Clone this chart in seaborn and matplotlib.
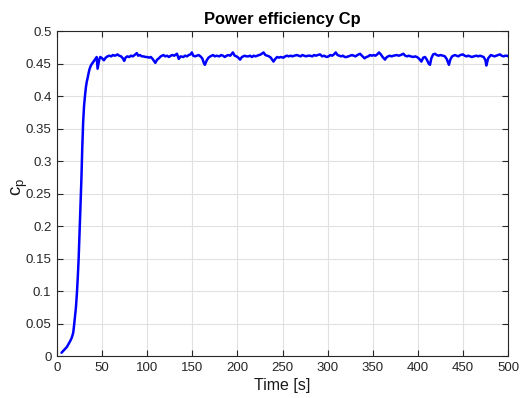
import matplotlib
matplotlib.use("Agg")
import matplotlib.pyplot as plt
import seaborn as sns
import pandas as pd

time = [5, 7, 9, 11, 13, 15, 16, 17, 18, 19, 20, 21, 22, 23, 24, 25, 26, 27, 28, 29,
        30, 31, 32, 33, 34, 35, 36, 37, 38, 40, 42, 44, 45, 46, 47, 48, 50, 52, 54, 56,
        58, 60, 62, 64, 66, 67, 69, 71, 73, 74.5, 76, 78, 80, 82, 84, 86, 88.5, 90, 92, 94,
        96, 98, 100, 102, 104, 106, 108, 109, 111, 113, 115, 118, 120, 122, 124, 126, 128, 130, 133, 135,
        137, 140, 142, 144, 146, 148, 149.5, 151, 153, 155, 157, 159, 161, 163, 164, 166, 168, 170, 173, 175,
        177, 180, 182, 184, 186, 188, 190, 192, 195, 197, 199, 201, 203, 205, 208, 210, 212, 214, 216, 218,
        220, 222, 224, 226, 229, 231, 233, 235, 237, 239, 240, 242, 244, 246, 248, 251, 253, 255, 257, 259,
        261, 263, 266, 268, 270, 272, 274, 276, 278, 280.5, 283, 285, 287, 289, 291.6, 294, 296, 299, 301, 303,
        305, 307, 309, 311, 313, 315, 317, 319, 321, 323, 325, 327, 329, 331, 333, 336, 338, 341, 343, 345,
        347, 349, 351, 353, 355, 357, 359, 361, 363.6, 365, 367, 369, 371, 373, 376.5, 379, 381, 384, 386, 388,
        390, 392, 395, 397, 399, 401, 404, 406, 408, 410, 412, 413.5, 415, 417, 419, 421, 423, 425, 428, 430,
        432, 434.5, 436, 438, 441, 443, 445, 447, 450, 452, 454, 456, 458, 460, 462, 465, 467, 469, 471, 473,
        475, 476, 478, 481, 483, 485, 487, 489, 491, 493, 495, 497, 499, 500]
cp = [0.005, 0.008, 0.011, 0.014, 0.019, 0.024, 0.027, 0.031, 0.036, 0.048, 0.062, 0.075, 0.095, 0.12, 0.15, 0.19, 0.23, 0.27, 0.32, 0.36,
      0.385, 0.40, 0.413, 0.422, 0.428, 0.435, 0.441, 0.445, 0.448, 0.452, 0.456, 0.460, 0.442, 0.450, 0.457, 0.460, 0.458, 0.455, 0.459, 0.461,
      0.462, 0.461, 0.463, 0.462, 0.463, 0.464, 0.462, 0.461, 0.458, 0.454, 0.459, 0.461, 0.460, 0.462, 0.461, 0.463, 0.466, 0.462, 0.463, 0.461,
      0.461, 0.460, 0.460, 0.459, 0.460, 0.457, 0.453, 0.451, 0.456, 0.458, 0.461, 0.463, 0.461, 0.462, 0.460, 0.462, 0.463, 0.462, 0.465, 0.457,
      0.461, 0.460, 0.462, 0.461, 0.463, 0.464, 0.467, 0.462, 0.461, 0.462, 0.463, 0.461, 0.458, 0.450, 0.448, 0.455, 0.459, 0.461, 0.463, 0.461,
      0.462, 0.461, 0.463, 0.462, 0.460, 0.462, 0.463, 0.462, 0.467, 0.462, 0.461, 0.459, 0.456, 0.460, 0.462, 0.461, 0.461, 0.462, 0.460, 0.462,
      0.461, 0.462, 0.463, 0.464, 0.467, 0.463, 0.462, 0.461, 0.459, 0.455, 0.453, 0.457, 0.460, 0.459, 0.460, 0.459, 0.461, 0.462, 0.461, 0.462,
      0.461, 0.462, 0.463, 0.462, 0.461, 0.463, 0.462, 0.461, 0.462, 0.462, 0.461, 0.463, 0.462, 0.463, 0.464, 0.461, 0.462, 0.460, 0.461, 0.463,
      0.462, 0.464, 0.467, 0.463, 0.462, 0.461, 0.462, 0.460, 0.460, 0.461, 0.462, 0.463, 0.462, 0.461, 0.463, 0.465, 0.462, 0.458, 0.460, 0.461,
      0.463, 0.462, 0.463, 0.462, 0.464, 0.467, 0.464, 0.460, 0.456, 0.459, 0.461, 0.462, 0.461, 0.462, 0.463, 0.462, 0.463, 0.465, 0.462, 0.461,
      0.462, 0.461, 0.460, 0.461, 0.460, 0.458, 0.453, 0.459, 0.460, 0.456, 0.450, 0.448, 0.458, 0.464, 0.465, 0.463, 0.462, 0.463, 0.462, 0.461,
      0.457, 0.448, 0.456, 0.461, 0.463, 0.462, 0.461, 0.463, 0.464, 0.462, 0.461, 0.462, 0.461, 0.460, 0.461, 0.462, 0.461, 0.462, 0.461, 0.460,
      0.455, 0.447, 0.458, 0.463, 0.462, 0.461, 0.462, 0.463, 0.464, 0.462, 0.461, 0.462, 0.462, 0.461]

x_ticks = [0, 50, 100, 150, 200, 250, 300, 350, 400, 450, 500]
y_ticks = [0, 0.05, 0.1, 0.15, 0.2, 0.25, 0.3, 0.35, 0.4, 0.45, 0.5]
y_tick_labels = ["0", "0.05", "0.1", "0.15", "0.2", "0.25", "0.3", "0.35", "0.4", "0.45", "0.5"]

df = pd.DataFrame({"Time": time, "Cp": cp})

sns.set_style("whitegrid")
plt.rcParams["font.family"] = ["Liberation Sans", "DejaVu Sans"]
plt.rcParams["mathtext.fontset"] = "custom"
plt.rcParams["mathtext.rm"] = "Liberation Sans"

fig = plt.figure(figsize=(5.22, 3.98), dpi=100)
fig.patch.set_facecolor("white")
ax = fig.add_axes([0.1092, 0.1055, 0.864, 0.8166])

sns.lineplot(data=df, x="Time", y="Cp", ax=ax, color="#0000ff", linewidth=1.8,
             estimator=None, sort=False)

ax.set_xlim(0, 500)
ax.set_ylim(0, 0.5)
ax.set_xticks(x_ticks)
ax.set_xticklabels([str(t) for t in x_ticks])
ax.set_yticks(y_ticks)
ax.set_yticklabels(y_tick_labels)

ax.grid(True, color="#e1e1e1", linewidth=0.8)
ax.set_axisbelow(True)
for s in ax.spines.values():
    s.set_visible(True)
    s.set_color("#262626")
    s.set_linewidth(0.8)
ax.tick_params(axis="both", which="both", direction="in", length=4, width=0.8,
               color="#262626", labelcolor="#262626", labelsize=9.5,
               top=True, right=True, bottom=True, left=True, pad=4)

ax.set_xlabel("Time [s]", fontsize=11.5, color="#1a1a1a", labelpad=3)
ax.set_ylabel(r"c$_\mathregular{p}$", fontsize=13.5, color="#1a1a1a")
ax.yaxis.set_label_coords(-0.06, 0.52)
ax.set_title("Power efficiency Cp", fontsize=11.9, fontweight="bold", color="black", pad=5)

fig.savefig("out.png", dpi=100, facecolor="white")
